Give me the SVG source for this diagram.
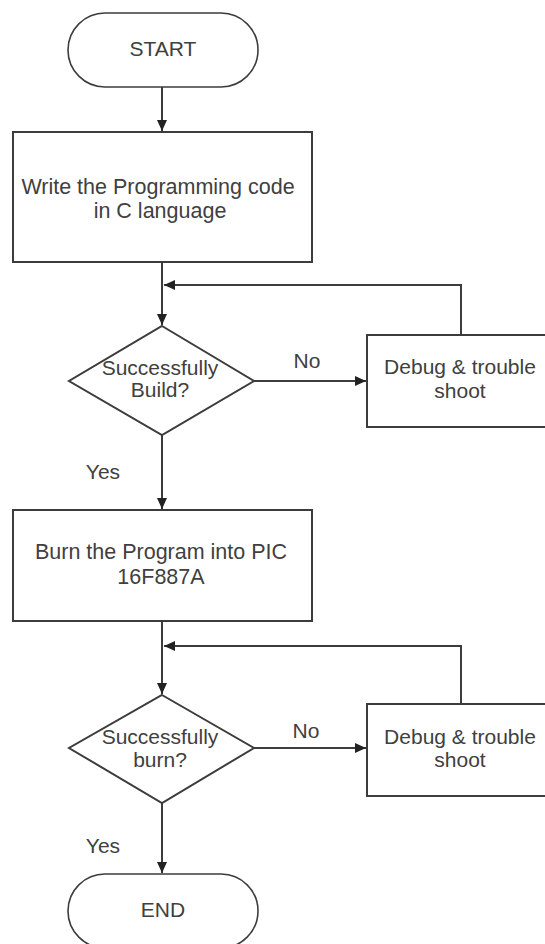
<svg xmlns="http://www.w3.org/2000/svg" width="545" height="944" viewBox="0 0 545 944">
<style>
.shape{fill:#fff;stroke:#3c3c3c;stroke-width:2}
.term{fill:#fff;stroke:#3c3c3c;stroke-width:1.6}
.line{fill:none;stroke:#3c3c3c;stroke-width:2}
text{font-family:"Liberation Sans",Arial,sans-serif;font-size:21px;fill:#404040;text-anchor:middle}
.wide{font-size:21.5px}
</style>
<defs>
<marker id="ah" markerWidth="11" markerHeight="10" refX="11" refY="5" orient="auto" markerUnits="userSpaceOnUse">
<path d="M0,0 L11,5 L0,10 Z" fill="#222"/>
</marker>
</defs>
<rect width="545" height="944" fill="#fff"/>
<g id="connectors">
<line class="line" x1="162" y1="87" x2="162" y2="131" marker-end="url(#ah)"/>
<line class="line" x1="162" y1="262" x2="162" y2="325" marker-end="url(#ah)"/>
<polyline class="line" points="461,335 461,285 164,285" marker-end="url(#ah)"/>
<line class="line" x1="254" y1="381" x2="366" y2="381" marker-end="url(#ah)"/>
<line class="line" x1="162" y1="435" x2="162" y2="509" marker-end="url(#ah)"/>
<line class="line" x1="162" y1="621" x2="162" y2="694" marker-end="url(#ah)"/>
<polyline class="line" points="461,704 461,646 164,646" marker-end="url(#ah)"/>
<line class="line" x1="254" y1="748" x2="366" y2="748" marker-end="url(#ah)"/>
<line class="line" x1="162" y1="803" x2="162" y2="873" marker-end="url(#ah)"/>
<text x="307" y="368">No</text>
<text x="103" y="479">Yes</text>
<text x="306" y="738">No</text>
<text x="103" y="853">Yes</text>
</g>
<g id="start">
<rect class="term" x="68" y="13" width="190" height="74" rx="37"/>
<text x="163" y="56">START</text>
</g>
<g id="write">
<rect class="shape" x="13" y="132" width="299" height="130"/>
<text class="wide" x="158" y="194">Write the Programming code</text>
<text class="wide" x="160" y="218">in C language</text>
</g>
<g id="build">
<polygon class="shape" points="162,326 254,381 162,435 69,381"/>
<text x="160" y="375">Successfully</text>
<text x="160" y="397">Build?</text>
</g>
<g id="debug1">
<rect class="shape" x="367" y="335" width="190" height="92"/>
<text x="460" y="374">Debug &amp; trouble</text>
<text x="460" y="398">shoot</text>
</g>
<g id="burn">
<rect class="shape" x="13" y="510" width="299" height="111"/>
<text class="wide" x="161" y="559">Burn the Program into PIC</text>
<text class="wide" x="161" y="584">16F887A</text>
</g>
<g id="burnq">
<polygon class="shape" points="162,695 254,748 162,803 69,748"/>
<text x="160" y="744">Successfully</text>
<text x="160" y="767">burn?</text>
</g>
<g id="debug2">
<rect class="shape" x="367" y="704" width="190" height="92"/>
<text x="460" y="744">Debug &amp; trouble</text>
<text x="460" y="767">shoot</text>
</g>
<g id="end">
<rect class="term" x="68" y="874" width="190" height="74" rx="37"/>
<text x="163" y="917">END</text>
</g>
</svg>
